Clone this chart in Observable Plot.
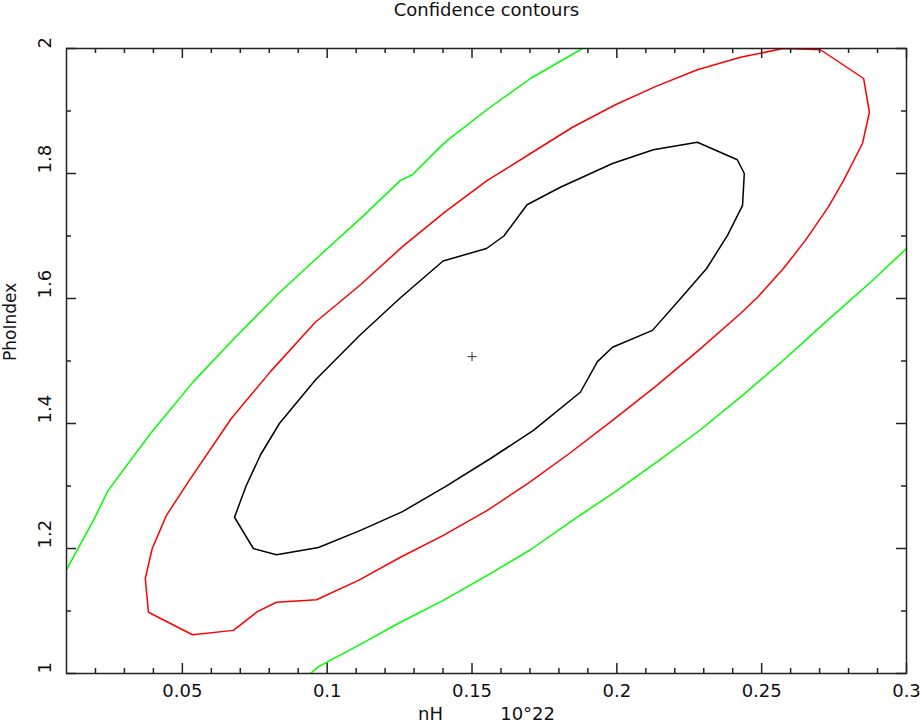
<!DOCTYPE html>
<html>
<head>
<meta charset="utf-8">
<script src="https://cdn.jsdelivr.net/npm/d3@7"></script>
<script src="https://cdn.jsdelivr.net/npm/@observablehq/plot@0.6"></script>
<style>
  html, body { margin: 0; padding: 0; background: white; }
</style>
</head>
<body>
<div id="chart"></div>
<script>
// ---- Data ----
const titleText = "Confidence contours";
const xLabel = "nH\u00a0\u00a0\u00a0\u00a0\u00a0\u00a0\u00a0\u00a0\u00a0\u00a010°22";
const yLabel = "PhoIndex";

const xDomain = [0.01, 0.3];
const yDomain = [1, 2];
const xMajorTicks = [0.05, 0.1, 0.15, 0.2, 0.25, 0.3];
const xTickLabels = ["0.05", "0.1", "0.15", "0.2", "0.25", "0.3"];
const xMinorTicks = [0.02,0.03,0.04,0.06,0.07,0.08,0.09,0.11,0.12,0.13,0.14,0.16,0.17,0.18,0.19,0.21,0.22,0.23,0.24,0.26,0.27,0.28,0.29];
const yMajorTicks = [1, 1.2, 1.4, 1.6, 1.8, 2];
const yTickLabels = ["1", "1.2", "1.4", "1.6", "1.8", "2"];
const yMinorTicks = [1.1, 1.3, 1.5, 1.7, 1.9];

// best fit point
const bestX = [0.15];
const bestY = [1.507];

// inner (black) contour
const blackX = [0.068,0.072,0.077,0.0835,0.096,0.111,0.125,0.140,0.155,0.161,0.169,0.1805,0.1985,0.2126,0.2278,0.2416,0.244,0.2434,0.2382,0.231,0.222,0.2123,0.1985,0.1933,0.1874,0.1712,0.1564,0.1408,0.126,0.1115,0.097,0.0825,0.0745,0.068];
const blackY = [1.25,1.30,1.35,1.40,1.47,1.54,1.60,1.66,1.68,1.70,1.75,1.778,1.816,1.838,1.850,1.822,1.80,1.749,1.701,1.648,1.60,1.549,1.522,1.499,1.45,1.389,1.344,1.299,1.259,1.229,1.2016,1.19,1.20,1.25];

// middle (red) contour
const redX = [0.0383,0.0372,0.0396,0.0445,0.0524,0.0669,0.0804,0.0959,0.1115,0.126,0.1408,0.1553,0.1702,0.1847,0.1995,0.2133,0.2278,0.2427,0.2575,0.2703,0.2852,0.2872,0.2848,0.2783,0.2731,0.2651,0.2575,0.2486,0.2427,0.2282,0.2133,0.1985,0.1836,0.1702,0.1553,0.1401,0.1253,0.1108,0.0963,0.0825,0.0759,0.0676,0.0535,0.0383];
const redY = [1.098,1.152,1.2,1.253,1.309,1.408,1.483,1.562,1.622,1.683,1.739,1.789,1.832,1.874,1.910,1.939,1.966,1.986,2.0,1.998,1.952,1.898,1.848,1.789,1.747,1.693,1.648,1.602,1.576,1.517,1.459,1.405,1.352,1.307,1.261,1.221,1.186,1.149,1.118,1.114,1.099,1.069,1.062,1.098];

// outer (green) contour, upper branch
const greenUpperX = [0.01,0.0193,0.0244,0.039,0.0538,0.0683,0.0832,0.0977,0.1122,0.1253,0.1294,0.1391,0.1415,0.1557,0.1702,0.1881];
const greenUpperY = [1.166,1.245,1.293,1.384,1.467,1.538,1.608,1.670,1.731,1.789,1.798,1.843,1.853,1.904,1.952,2.0];

// outer (green) contour, lower branch
const greenLowerX = [0.0942,0.097,0.1108,0.1253,0.1401,0.1553,0.1702,0.1847,0.1995,0.214,0.2289,0.2434,0.2582,0.2727,0.2876,0.3];
const greenLowerY = [1.0,1.011,1.045,1.082,1.117,1.157,1.198,1.245,1.291,1.339,1.39,1.445,1.504,1.565,1.626,1.68];

// ---- Build tables ----
const toPts = (xs, ys) => xs.map((x, i) => ({x, y: ys[i]}));
const black = toPts(blackX, blackY);
const red = toPts(redX, redY);
const greenU = toPts(greenUpperX, greenUpperY);
const greenL = toPts(greenLowerX, greenLowerY);
const best = toPts(bestX, bestY);

const W = 921, H = 724;
const mL = 66, mR = 15, mT = 48, mB = 51;
const innerH = H - mT - mB;
const innerW = W - mL - mR;
const axisColor = "#222";
const major = 10, minor = 5;

const chart = Plot.plot({
  width: W,
  height: H,
  marginLeft: mL,
  marginRight: mR,
  marginTop: mT,
  marginBottom: mB,
  x: {domain: xDomain, axis: null},
  y: {domain: yDomain, axis: null},
  style: {fontFamily: "'DejaVu Sans', sans-serif", fontSize: "18px", background: "white", color: "#111"},
  marks: [
    // contours
    Plot.line(greenU, {x: "x", y: "y", stroke: "#00ff00", strokeWidth: 1.5, clip: true}),
    Plot.line(greenL, {x: "x", y: "y", stroke: "#00ff00", strokeWidth: 1.5, clip: true}),
    Plot.line(red, {x: "x", y: "y", stroke: "#ff0000", strokeWidth: 1.5, clip: true}),
    Plot.line(black, {x: "x", y: "y", stroke: "#000", strokeWidth: 1.5}),
    Plot.dot(best, {x: "x", y: "y", symbol: "plus", r: 3, stroke: "#333", strokeWidth: 1}),
    // inward ticks, bottom & top
    Plot.tickX(xMajorTicks, {x: d => d, insetTop: innerH - major, stroke: axisColor, strokeWidth: 1.5}),
    Plot.tickX(xMinorTicks, {x: d => d, insetTop: innerH - minor, stroke: axisColor, strokeWidth: 1.5}),
    Plot.tickX(xMajorTicks, {x: d => d, insetBottom: innerH - major, stroke: axisColor, strokeWidth: 1.5}),
    Plot.tickX(xMinorTicks, {x: d => d, insetBottom: innerH - minor, stroke: axisColor, strokeWidth: 1.5}),
    // inward ticks, left & right
    Plot.tickY(yMajorTicks, {y: d => d, insetRight: innerW - major, stroke: axisColor, strokeWidth: 1.5}),
    Plot.tickY(yMinorTicks, {y: d => d, insetRight: innerW - minor, stroke: axisColor, strokeWidth: 1.5}),
    Plot.tickY(yMajorTicks, {y: d => d, insetLeft: innerW - major, stroke: axisColor, strokeWidth: 1.5}),
    Plot.tickY(yMinorTicks, {y: d => d, insetLeft: innerW - minor, stroke: axisColor, strokeWidth: 1.5}),
    Plot.frame({stroke: axisColor, strokeWidth: 1.5}),
    // tick labels
    Plot.text(xMajorTicks, {x: d => d, text: (d, i) => xTickLabels[i], frameAnchor: "bottom", dy: 18, lineAnchor: "middle", fill: "#111"}),
    Plot.text(yMajorTicks, {y: d => d, text: (d, i) => yTickLabels[i], frameAnchor: "left", dx: -21, rotate: -90, lineAnchor: "middle", fill: "#111"}),
    // title and axis labels
    Plot.text([titleText], {text: d => d, frameAnchor: "top", dy: -38, lineAnchor: "middle", fill: "#111"}),
    Plot.text([xLabel], {text: d => d, frameAnchor: "bottom", dy: 41, lineAnchor: "middle", fill: "#111"}),
    Plot.text([yLabel], {text: d => d, frameAnchor: "left", dx: -56, rotate: -90, lineAnchor: "middle", fontSize: 17, fill: "#111"})
  ]
});
document.getElementById("chart").appendChild(chart);
</script>
</body>
</html>
